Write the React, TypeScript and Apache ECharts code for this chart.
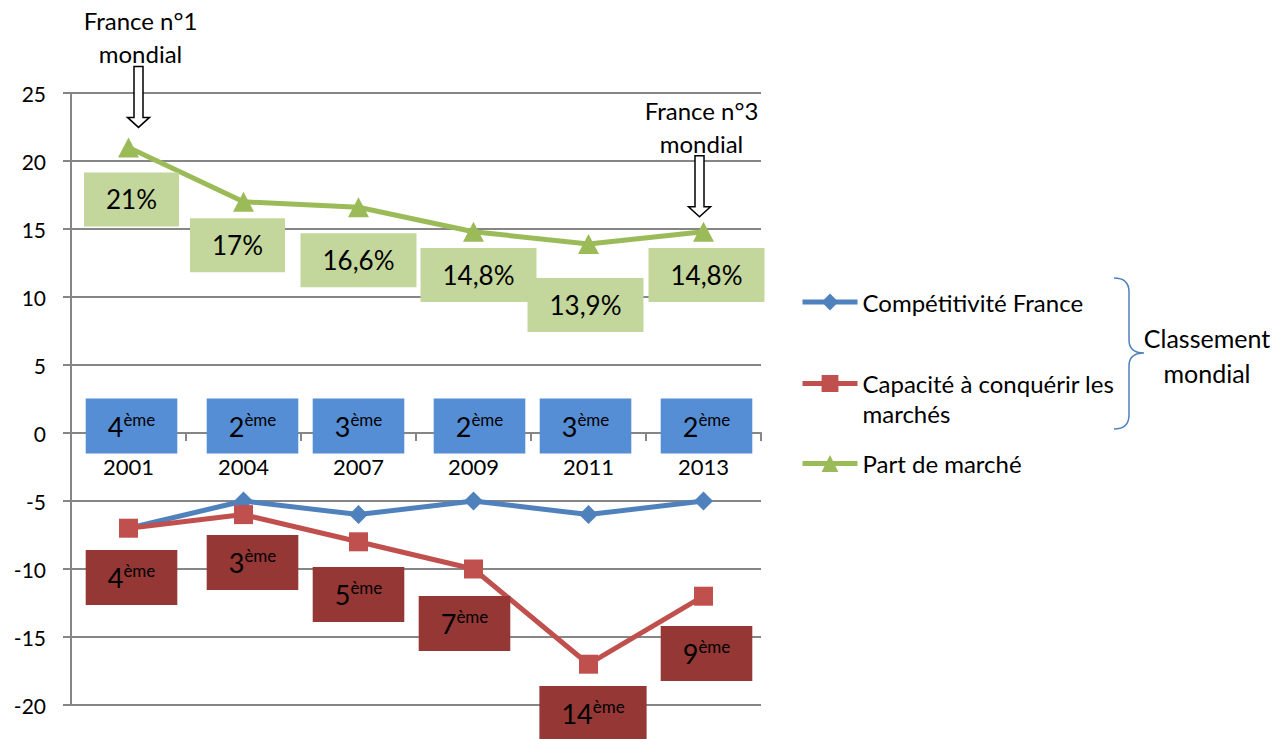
import React, { useEffect, useRef } from "react";
import * as echarts from "echarts";

const years = ["2001", "2004", "2007", "2009", "2011", "2013"];
const competitivite = [-7, -5, -6, -5, -6, -5];
const capacite = [-7, -6, -8, -10, -17, -12];
const partMarche = [21, 17, 16.6, 14.8, 13.9, 14.8];
const rangCompetitivite = ["4", "2", "3", "2", "3", "2"];
const rangCapacite = ["4", "3", "5", "7", "14", "9"];
const seriesNames = ["Compétitivité France", "Capacité à conquérir les marchés", "Part de marché"];
const yMin = -20;
const yMax = 25;
const yInterval = 5;

// label box nudges (layout only, pixels)
const partLabelShift = [[3, 9], [-6, 0.5], [0, 10], [5, 0.3], [-3, 18], [3, 0.3]];
const capLabelShift = [[3, 0.3], [9, -1], [0, 3.7], [-9, 5.5], [4.5, 0.3], [3, 8.3]];
const compLabelShift = [[3, -7], [9, -7], [0, -7], [6, -7], [-3, -7], [3, -7]];

const annotations = [
  { cat: 0, value: 21, text: "France n°1\nmondial", dx: 10, dy: -20 },
  { cat: 5, value: 14.8, text: "France n°3\nmondial", dx: -4, dy: -15 },
];

const FONT = "Lato, 'Noto Sans', sans-serif";
const BLUE = "#4F81BD";
const RED = "#C0504D";
const GREEN = "#9BBB59";

const rankRich = {
  n: { fontSize: 27, color: "#000", fontFamily: FONT, lineHeight: 31 },
  s: { fontSize: 17, color: "#000", fontFamily: FONT, verticalAlign: "top", lineHeight: 22 },
};

export default function App() {
  const ref = useRef<HTMLDivElement>(null);
  useEffect(() => {
    if (!ref.current) return;
    const chart = echarts.init(ref.current, null, { renderer: "svg" });
    const legendText = { fontSize: 24, color: "#000", fontFamily: FONT, lineHeight: 30 };
    const legendBase = {
      left: 800, orient: "vertical", padding: 0,
      itemWidth: 55, itemHeight: 21, textStyle: legendText,
      lineStyle: { width: 5 },
    };
    chart.setOption({
      animation: false,
      textStyle: { fontFamily: FONT },
      grid: { left: 71, right: 519, top: 93, bottom: 34, containLabel: false },
      legend: [
        { ...legendBase, data: [seriesNames[0]], top: 287 },
        {
          ...legendBase,
          data: [seriesNames[1]],
          top: 338.5,
          formatter: () => " \nCapacité à conquérir les\nmarchés",
        },
        { ...legendBase, data: [seriesNames[2]], top: 448.5 },
      ],
      xAxis: {
        type: "category",
        data: years,
        boundaryGap: true,
        axisLine: { onZero: true, lineStyle: { color: "#868686", width: 2 } },
        axisTick: { show: true, length: 8, lineStyle: { color: "#868686", width: 2 } },
        axisLabel: { color: "#000", fontSize: 22, lineHeight: 22, margin: -250, fontFamily: FONT },
        z: 1,
      },
      yAxis: {
        type: "value",
        min: yMin,
        max: yMax,
        interval: yInterval,
        axisLine: { show: true, lineStyle: { color: "#868686", width: 2 } },
        axisTick: { show: true, length: 8, lineStyle: { color: "#868686", width: 2 } },
        splitLine: { lineStyle: { color: "#868686", width: 2 } },
        axisLabel: { color: "#000", fontSize: 21, margin: 25, fontFamily: FONT },
      },
      series: [
        {
          name: seriesNames[0],
          type: "line",
          data: competitivite,
          color: BLUE,
          symbol: "diamond",
          symbolSize: 19,
          lineStyle: { width: 5, color: BLUE },
          itemStyle: { color: BLUE },
          z: 3,
        },
        {
          name: seriesNames[1],
          type: "line",
          data: capacite.map((v, i) => ({ value: v, label: { offset: capLabelShift[i] } })),
          color: RED,
          symbol: "rect",
          symbolSize: 19,
          lineStyle: { width: 5, color: RED },
          itemStyle: { color: RED },
          label: {
            show: true,
            position: "bottom",
            distance: 12,
            formatter: (p: any) => `{n|${rangCapacite[p.dataIndex]}}{s|ème}`,
            backgroundColor: "#953735",
            padding: [12, 22],
            rich: rankRich,
          },
          z: 4,
        },
        {
          name: seriesNames[2],
          type: "line",
          data: partMarche.map((v, i) => ({ value: v, label: { offset: partLabelShift[i] } })),
          color: GREEN,
          symbol: "triangle",
          symbolSize: [21, 20],
          lineStyle: { width: 5, color: GREEN },
          itemStyle: { color: GREEN },
          label: {
            show: true,
            position: "bottom",
            distance: 6,
            formatter: (p: any) => String(partMarche[p.dataIndex]).replace(".", ",") + "%",
            backgroundColor: "#C3D69B",
            padding: [12, 22],
            color: "#000",
            fontSize: 26,
            lineHeight: 30,
            fontFamily: FONT,
          },
          z: 5,
        },
        {
          name: "rangCompetitivite",
          type: "scatter",
          data: years.map((_, i) => ({ value: [i, 0], label: { offset: compLabelShift[i] } })),
          symbolSize: 1,
          itemStyle: { color: "rgba(0,0,0,0)", opacity: 1 },
          label: {
            show: true,
            position: "inside",
            opacity: 1,
            formatter: (p: any) => `{n|${rangCompetitivite[p.dataIndex]}}{s|ème}`,
            backgroundColor: "#558ED5",
            padding: [12, 22],
            rich: rankRich,
          },
          z: 6,
        },
      ],
    });

    const graphics: any[] = [];
    annotations.forEach((a) => {
      const pt = chart.convertToPixel({ gridIndex: 0 }, [a.cat, a.value]) as number[];
      const tx = pt[0] + a.dx;
      const ty = pt[1] + a.dy;
      graphics.push({
        type: "polygon",
        z: 10,
        shape: {
          points: [
            [tx - 4.5, ty - 61], [tx + 4.5, ty - 61], [tx + 4.5, ty - 10], [tx + 11, ty - 10],
            [tx, ty], [tx - 11, ty - 10], [tx - 4.5, ty - 10],
          ],
        },
        style: { fill: "#fff", stroke: "#000", lineWidth: 1.5 },
      });
      graphics.push({
        type: "text",
        z: 10,
        x: tx + 2,
        y: ty - 90,
        style: {
          text: a.text, fill: "#000", fontSize: 24, fontFamily: FONT,
          align: "center", verticalAlign: "middle", lineHeight: 33,
        },
      });
    });

    echarts.graphic.registerShape(
      "brace",
      echarts.graphic.extendPath(
        "M1114,278 Q1129,278 1129,292 L1129,340 Q1129,353 1144,353 Q1129,353 1129,366 L1129,415 Q1129,429 1114,429",
        {}
      )
    );
    graphics.push({
      type: "brace",
      x: 0, y: 0, scaleX: 1, scaleY: 1,
      style: { stroke: BLUE, fill: "none", lineWidth: 1.5 },
    });
    graphics.push({
      type: "text",
      x: 1207,
      y: 355,
      style: {
        text: "Classement\nmondial", fill: "#000", fontSize: 25, fontFamily: FONT,
        align: "center", verticalAlign: "middle", lineHeight: 35,
      },
    });
    chart.setOption({ graphic: graphics });

    return () => chart.dispose();
  }, []);
  return (
    <div
      ref={ref}
      style={{ position: "fixed", left: 0, top: 0, width: 1280, height: 739, background: "#fff" }}
    />
  );
}
